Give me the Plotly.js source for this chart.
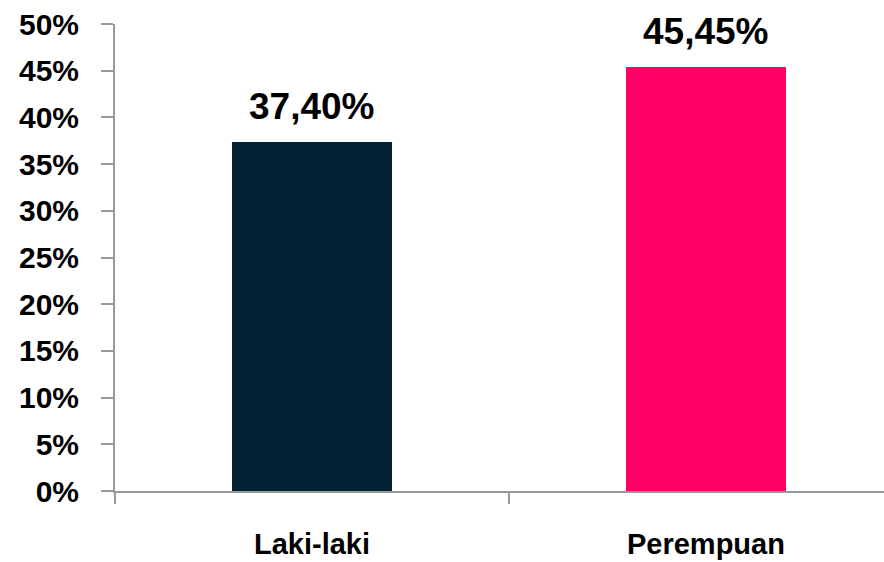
<!DOCTYPE html>
<html>
<head>
<meta charset="utf-8">
<script src="https://cdn.plot.ly/plotly-3.0.1.min.js"></script>
<style>html,body{margin:0;padding:0;background:#fff}#chart{width:884px;height:562px}</style>
</head>
<body>
<div id="chart"></div>
<script>
const categories = ["Laki-laki", "Perempuan"];
const values = [0.374, 0.4545];
const labels = ["37,40%", "45,45%"];
const colors = ["#022233", "#FF0066"];
const yTickVals = [0, 0.05, 0.10, 0.15, 0.20, 0.25, 0.30, 0.35, 0.40, 0.45, 0.50];

const FONT = "Liberation Sans, Arial, sans-serif";

const trace = {
  type: "bar",
  x: categories,
  y: values,
  width: 0.404,
  marker: {color: colors},
  hoverinfo: "none"
};

const annotations = categories.map((c, i) => ({
  x: c, y: values[i], xref: "x", yref: "y",
  text: labels[i],
  showarrow: false, yanchor: "bottom", yshift: 13,
  font: {family: FONT, size: 37, color: "#000", weight: "bold"}
}));

const layout = {
  width: 884, height: 562,
  margin: {l: 115, r: 0, t: 24, b: 71},
  paper_bgcolor: "#fff", plot_bgcolor: "#fff",
  showlegend: false,
  font: {family: FONT, color: "#000"},
  bargap: 0,
  xaxis: {
    type: "category",
    range: [-0.5, 1.452],
    showline: true, linecolor: "#999", linewidth: 2,
    ticks: "outside", tickson: "boundaries", ticklen: 11, tickwidth: 2, tickcolor: "#999",
    tickfont: {family: FONT, size: 29, color: "#000", weight: "bold"},
    ticklabelstandoff: 26,
    showgrid: false, zeroline: false
  },
  yaxis: {
    range: [0, 0.5],
    tickvals: yTickVals,
    tickformat: ".0%",
    showline: true, linecolor: "#999", linewidth: 2,
    ticks: "outside", ticklen: 12, tickwidth: 2, tickcolor: "#999",
    tickfont: {family: FONT, size: 30, color: "#000", weight: "bold"},
    ticklabelstandoff: 16,
    showgrid: false, zeroline: false
  },
  annotations: annotations
};

Plotly.newPlot("chart", [trace], layout, {displayModeBar: false, staticPlot: true});
</script>
</body>
</html>
